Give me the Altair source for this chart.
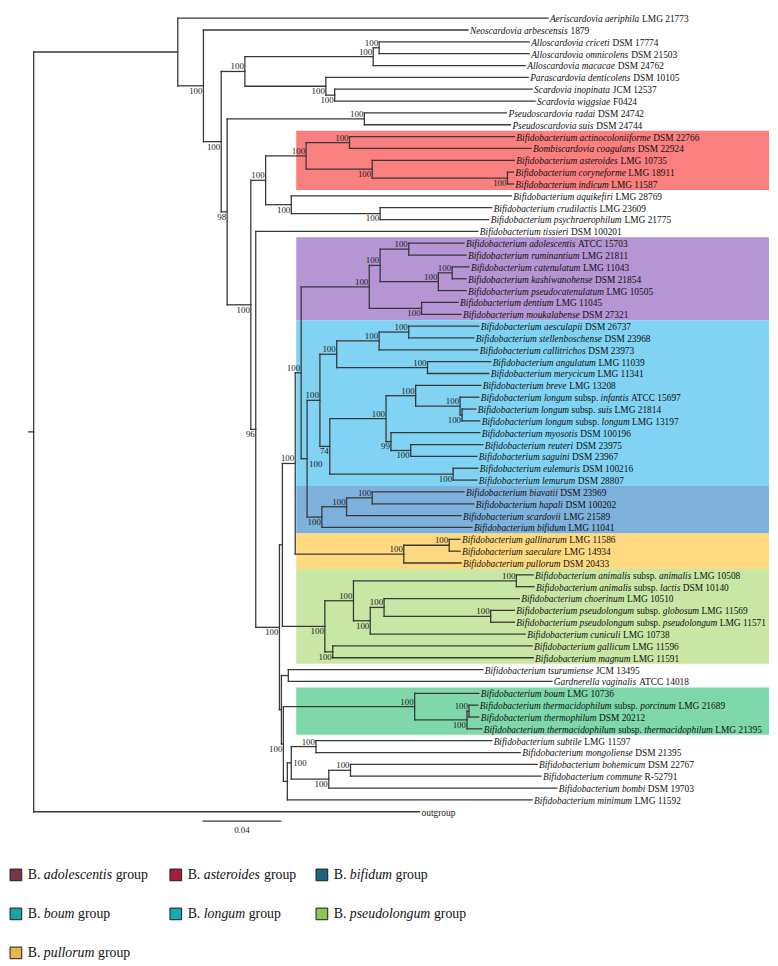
import altair as alt
import pandas as pd

# ---------------- leaves (top to bottom) ----------------
leaf_names = [
    "*Aeriscardovia aeriphila* LMG 21773",
    "*Neoscardovia arbescensis* 1879",
    "*Alloscardovia criceti* DSM 17774",
    "*Alloscardovia omnicolens* DSM 21503",
    "*Alloscardovia macacae* DSM 24762",
    "*Parascardovia denticolens* DSM 10105",
    "*Scardovia inopinata* JCM 12537",
    "*Scardovia wiggsiae* F0424",
    "*Pseudoscardovia radai* DSM 24742",
    "*Pseudoscardovia suis* DSM 24744",
    "*Bifidobacterium actinocoloniiforme* DSM 22766",
    "*Bombiscardovia coagulans* DSM 22924",
    "*Bifidobacterium asteroides* LMG 10735",
    "*Bifidobacterium coryneforme* LMG 18911",
    "*Bifidobacterium indicum* LMG 11587",
    "*Bifidobacterium aquikefiri* LMG 28769",
    "*Bifidobacterium crudilactis* LMG 23609",
    "*Bifidobacterium psychraerophilum* LMG 21775",
    "*Bifidobacterium tissieri* DSM 100201",
    "*Bifidobacterium adolescentis* ATCC 15703",
    "*Bifidobacterium ruminantium* LMG 21811",
    "*Bifidobacterium catenulatum* LMG 11043",
    "*Bifidobacterium kashiwanohense* DSM 21854",
    "*Bifidobacterium pseudocatenulatum* LMG 10505",
    "*Bifidobacterium dentium* LMG 11045",
    "*Bifidobacterium moukalabense* DSM 27321",
    "*Bifidobacterium aesculapii* DSM 26737",
    "*Bifidobacterium stellenboschense* DSM 23968",
    "*Bifidobacterium callitrichos* DSM 23973",
    "*Bifidobacterium angulatum* LMG 11039",
    "*Bifidobacterium merycicum* LMG 11341",
    "*Bifidobacterium breve* LMG 13208",
    "*Bifidobacterium longum* subsp. *infantis* ATCC 15697",
    "*Bifidobacterium longum* subsp. *suis* LMG 21814",
    "*Bifidobacterium longum* subsp. *longum* LMG 13197",
    "*Bifidobacterium myosotis* DSM 100196",
    "*Bifidobacterium reuteri* DSM 23975",
    "*Bifidobacterium saguini* DSM 23967",
    "*Bifidobacterium eulemuris* DSM 100216",
    "*Bifidobacterium lemurum* DSM 28807",
    "*Bifidobacterium biavatii* DSM 23969",
    "*Bifidobacterium hapali* DSM 100202",
    "*Bifidobacterium scardovii* LMG 21589",
    "*Bifidobacterium bifidum* LMG 11041",
    "*Bifidobacterium gallinarum* LMG 11586",
    "*Bifidobacterium saeculare* LMG 14934",
    "*Bifidobacterium pullorum* DSM 20433",
    "*Bifidobacterium animalis* subsp. *animalis* LMG 10508",
    "*Bifidobacterium animalis* subsp. *lactis* DSM 10140",
    "*Bifidobacterium choerinum* LMG 10510",
    "*Bifidobacterium pseudolongum* subsp. *globosum* LMG 11569",
    "*Bifidobacterium pseudolongum* subsp. *pseudolongum* LMG 11571",
    "*Bifidobacterium cuniculi* LMG 10738",
    "*Bifidobacterium gallicum* LMG 11596",
    "*Bifidobacterium magnum* LMG 11591",
    "*Bifidobacterium tsurumiense* JCM 13495",
    "*Gardnerella vaginalis* ATCC 14018",
    "*Bifidobacterium boum* LMG 10736",
    "*Bifidobacterium thermacidophilum* subsp. *porcinum* LMG 21689",
    "*Bifidobacterium thermophilum* DSM 20212",
    "*Bifidobacterium thermacidophilum* subsp. *thermacidophilum* LMG 21395",
    "*Bifidobacterium subtile* LMG 11597",
    "*Bifidobacterium mongoliense* DSM 21395",
    "*Bifidobacterium bohemicum* DSM 22767",
    "*Bifidobacterium commune* R-52791",
    "*Bifidobacterium bombi* DSM 19703",
    "*Bifidobacterium minimum* LMG 11592",
    "outgroup",
]

leaf_parent = [
    "A", "B", "G", "G", "F", "H", "I", "I", "J", "J",
    "N", "N", "O", "P", "P", "Q", "R", "R", "S",
    "X2", "X2", "X4", "X4", "X3", "X5", "X5",
    "AD", "AD", "AC", "AE", "AE", "AI", "AJ", "AK", "AK", "AL", "AM", "AM", "AH", "AH",
    "AO", "AO", "AN", "Z",
    "AQ", "AQ", "AP",
    "AT", "AT", "AV", "AW", "AW", "AU", "AX", "AX",
    "GT", "GT", "BOUM", "BU", "BU", "BT", "SUB", "SUB", "N353", "N353", "N331", "T5", "root",
]

# distance from root (substitutions per site) at the tip of each leaf
leaf_dist = [
    0.2605, 0.2200, 0.2510, 0.2510, 0.2490, 0.2505, 0.2525, 0.2540, 0.2395, 0.2415,
    0.2435, 0.2520, 0.2435, 0.2430, 0.2430, 0.2420, 0.2320, 0.2305, 0.2250,
    0.2180, 0.2190, 0.2205, 0.2190, 0.2190, 0.2150, 0.2165,
    0.2255, 0.2230, 0.2250, 0.2315, 0.2305, 0.2265, 0.2255, 0.2240, 0.2260, 0.2260,
    0.2275, 0.2245, 0.2250, 0.2245,
    0.2180, 0.2230, 0.2165, 0.2220,
    0.2160, 0.2160, 0.2165,
    0.2530, 0.2535, 0.2460, 0.2435, 0.2435, 0.2490, 0.2525, 0.2530,
    0.2275, 0.2625, 0.2255, 0.2250, 0.2255, 0.2270, 0.2320, 0.2465, 0.2550, 0.2570,
    0.2650, 0.2525, 0.1955,
]

# ---------------- internal nodes ----------------
node_ids = [
    "root", "A", "B", "C", "E", "F", "G", "H", "I", "D",
    "J", "K", "L", "M", "N", "O", "P", "Q", "R", "S",
    "T1", "T2", "V", "W", "X", "X1", "X2", "X3", "X4", "X5",
    "Y", "AA", "AB", "AC", "AD", "AE", "AF", "AG", "AI", "AJ",
    "AK", "AL", "AM", "AH", "Z", "AN", "AO", "AP", "AQ", "AR",
    "AS", "AT", "AU", "AV", "AW", "AX", "T3", "GT", "T4", "BOUM",
    "BT", "BU", "T5", "T6", "SUB", "N331", "N353",
]
node_parent = [
    "", "root", "A", "B", "C", "E", "F", "E", "H", "C",
    "D", "D", "K", "L", "M", "M", "O", "L", "Q", "K",
    "S", "T1", "T2", "V", "W", "X", "X1", "X1", "X3", "X",
    "W", "Y", "AA", "AB", "AC", "AB", "AA", "AF", "AG", "AI",
    "AJ", "AG", "AL", "AF", "Y", "Z", "AN", "V", "AP", "T2",
    "AR", "AS", "AS", "AU", "AV", "AR", "T1", "T3", "T3", "T4",
    "BOUM", "BT", "T4", "T5", "T6", "T6", "N331",
]
node_dist = [
    0.0000, 0.0730, 0.0860, 0.0950, 0.1070, 0.1720, 0.1750, 0.1480, 0.1525, 0.0980,
    0.1675, 0.1100, 0.1175, 0.1380, 0.1600, 0.1715, 0.2400, 0.1305, 0.1755, 0.1125,
    0.1245, 0.1260, 0.1325, 0.1355, 0.1700, 0.1755, 0.1900, 0.2050, 0.2120, 0.1965,
    0.1385, 0.1450, 0.1535, 0.1750, 0.1900, 0.1995, 0.1500, 0.1785, 0.1935, 0.2160,
    0.2170, 0.1810, 0.1910, 0.2125, 0.1460, 0.1585, 0.1715, 0.1875, 0.2105, 0.1475,
    0.1620, 0.2445, 0.1705, 0.1775, 0.2315, 0.1515, 0.1255, 0.1290, 0.1265, 0.1930,
    0.2195, 0.2205, 0.1285, 0.1305, 0.1430, 0.1495, 0.1605,
]
node_support = [
    "", "", "100", "100", "100", "100", "100", "100", "100", "98",
    "100", "100", "100", "100", "100", "100", "100", "100", "100", "96",
    "100", "", "100", "100", "100", "100", "100", "100", "100", "100",
    "100", "100", "100", "100", "100", "100", "74", "100", "100", "100",
    "100", "99", "100", "100", "100", "100", "100", "100", "100", "100",
    "100", "100", "100", "100", "100", "100", "", "", "100", "100",
    "100", "100", "", "100", "100", "100", "100",
]
node_label_pos = [
    "", "", "below", "below", "above", "above", "above", "below", "below", "below",
    "above", "below", "above", "above", "above", "below", "below", "below", "below", "below",
    "below", "", "above", "above", "above", "above", "above", "above", "above", "below",
    "right_below", "above", "above", "above", "above", "above", "below", "above", "above", "above",
    "below", "below", "below", "below", "below", "above", "above", "above", "above", "below",
    "above", "above", "below", "above", "above", "below", "", "", "below", "above",
    "below", "above", "", "right", "above", "below", "above",
]
root_stem_start = -0.0025

# ---------------- shaded groups ----------------
box_group = ["asteroides", "adolescentis", "longum", "bifidum", "pullorum", "pseudolongum", "boum"]
box_first_row = [10, 19, 26, 40, 44, 47, 57]
box_last_row = [14, 25, 39, 43, 46, 54, 60]
box_color = ["#FA7F7F", "#B595D3", "#80D3F3", "#7EB1DC", "#FFD97F", "#C8E6A4", "#7ED8AA"]
box_x_start = 0.133
box_x_end = 0.3725

# ---------------- legend ----------------
legend_labels = [
    "B. *adolescentis* group", "B. *asteroides* group", "B. *bifidum* group",
    "B. *boum* group", "B. *longum* group", "B. *pseudolongum* group",
    "B. *pullorum* group",
]
legend_colors = ["#7A3448", "#A51E3C", "#1E6482", "#16A5A0", "#17A9B3", "#8DC653", "#E6B84C"]
legend_col = [0, 1, 2, 0, 1, 2, 0]
legend_row = [0, 0, 0, 1, 1, 1, 2]

# ---------------- scale bar ----------------
scalebar_start = 0.0855
scalebar_length = 0.04
scalebar_label = "0.04"
scalebar_row = 67.8

# ---------------- text metrics (Times / Liberation Serif, per 1000 em) ----------------
REG = dict(zip(" .-0123456789", [250, 250, 333] + [500] * 10))
REG.update(dict(zip("ABCDEFGHIJKLMNOPQRSTUVWXYZ",
                    [722, 667, 667, 722, 611, 556, 722, 722, 333, 389, 722, 611, 889,
                     722, 722, 556, 722, 667, 556, 611, 722, 722, 944, 722, 722, 611])))
REG.update(dict(zip("abcdefghijklmnopqrstuvwxyz",
                    [444, 500, 444, 500, 444, 333, 500, 500, 278, 278, 500, 278, 778,
                     500, 500, 500, 500, 333, 389, 278, 500, 500, 722, 500, 500, 444])))
ITA = dict(zip(" .-0123456789", [250, 250, 333] + [500] * 10))
ITA.update(dict(zip("ABCDEFGHIJKLMNOPQRSTUVWXYZ",
                    [611, 611, 667, 722, 611, 611, 722, 722, 333, 444, 667, 556, 833,
                     667, 722, 611, 722, 611, 500, 556, 722, 611, 833, 611, 556, 556])))
ITA.update(dict(zip("abcdefghijklmnopqrstuvwxyz",
                    [500, 500, 444, 500, 444, 278, 500, 500, 278, 278, 444, 278, 722,
                     500, 500, 500, 500, 389, 389, 278, 500, 444, 667, 444, 444, 389])))


def text_width(s, italic, size):
    table = ITA if italic else REG
    return sum(table.get(c, 500) for c in s) * size / 1000.0


def split_segments(label, size, start):
    """Split '*italic* roman' markup into (text, italic, pixel offset) pieces."""
    segs = []
    off = start
    for k, part in enumerate(label.split("*")):
        italic = (k % 2 == 1)
        if part == "":
            continue
        lead = len(part) - len(part.lstrip(" "))
        trail = len(part) - len(part.rstrip(" "))
        core = part.strip(" ")
        off += lead * 0.25 * size
        if core:
            segs.append((core, italic, off))
            off += text_width(core, italic, size)
        off += trail * 0.25 * size
    return segs


# ---------------- tree layout ----------------
children = {n: [] for n in node_ids}
for i, p in enumerate(leaf_parent):
    children[p].append(("leaf", i))
for n, p in zip(node_ids, node_parent):
    if p:
        children[p].append(("node", n))
dist = dict(zip(node_ids, node_dist))
ypos = {}


def layout(n):
    ys = []
    for kind, key in children[n]:
        ys.append(float(key) if kind == "leaf" else layout(key))
    y = (min(ys) + max(ys)) / 2.0
    ypos[n] = (y, min(ys), max(ys))
    return y


layout("root")

# chart geometry
W, H = 770, 836
XMIN, XMAX = -0.012, 0.373
PX_PER_UNIT = W / (XMAX - XMIN)

hrows = []
for n, p in zip(node_ids, node_parent):
    if p:
        hrows.append({"x": dist[p], "x2": dist[n], "y": ypos[n][0]})
    else:
        hrows.append({"x": root_stem_start, "x2": dist[n], "y": ypos[n][0]})
for i, p in enumerate(leaf_parent):
    hrows.append({"x": dist[p], "x2": leaf_dist[i], "y": float(i)})
hdf = pd.DataFrame(hrows)
vdf = pd.DataFrame([{"x": dist[n], "y": ypos[n][1], "y2": ypos[n][2]} for n in node_ids])

LEAF_FS = 9.5
seg_rows = []
for i, name in enumerate(leaf_names):
    for core, italic, off in split_segments(name, LEAF_FS, 2.0):
        seg_rows.append({"x": leaf_dist[i] + off / PX_PER_UNIT, "y": float(i),
                         "text": core, "italic": italic})
seg_df = pd.DataFrame(seg_rows)

sup_df = pd.DataFrame([
    {"x": dist[n], "y": ypos[n][0], "text": s, "pos": pos}
    for n, s, pos in zip(node_ids, node_support, node_label_pos) if s
])

box_df = pd.DataFrame({
    "group": box_group,
    "x": [box_x_start] * len(box_group),
    "x2": [box_x_end] * len(box_group),
    "y": [r - 0.5 for r in box_first_row],
    "y2": [r + 0.5 for r in box_last_row],
    "color": box_color,
})

sb_df = pd.DataFrame({
    "x": [scalebar_start], "x2": [scalebar_start + scalebar_length],
    "xm": [scalebar_start + scalebar_length / 2], "y": [scalebar_row],
    "label": [scalebar_label],
})

# ---------------- chart ----------------
xs = alt.Scale(domain=[XMIN, XMAX], nice=False, zero=False)
ys = alt.Scale(domain=[-1 / 12, 835 / 12], nice=False, zero=False, reverse=True)
X = lambda f: alt.X(f, scale=xs, axis=None)
Y = lambda f: alt.Y(f, scale=ys, axis=None)
FONT = "Liberation Serif"
LINE = "#383838"

boxes = alt.Chart(box_df).mark_rect().encode(
    x=X("x:Q"), x2="x2:Q", y=Y("y:Q"), y2="y2:Q",
    color=alt.Color("color:N", scale=None))

hlines = alt.Chart(hdf).mark_rule(color=LINE, strokeWidth=1.3, strokeCap="square").encode(
    x=X("x:Q"), x2="x2:Q", y=Y("y:Q"))
vlines = alt.Chart(vdf).mark_rule(color=LINE, strokeWidth=1.3, strokeCap="square").encode(
    x=X("x:Q"), y=Y("y:Q"), y2="y2:Q")

seg_enc = dict(x=X("x:Q"), y=Y("y:Q"), text="text:N")
leaf_ital = alt.Chart(seg_df).transform_filter("datum.italic").mark_text(
    align="left", baseline="middle", font=FONT, fontSize=LEAF_FS, fontStyle="italic",
    color="#111111", dy=1).encode(**seg_enc)
leaf_reg = alt.Chart(seg_df).transform_filter("!datum.italic").mark_text(
    align="left", baseline="middle", font=FONT, fontSize=LEAF_FS,
    color="#111111", dy=1).encode(**seg_enc)

sup_enc = dict(x=X("x:Q"), y=Y("y:Q"), text="text:N")
SUP_FS = 9
sup_above = alt.Chart(sup_df).transform_filter("datum.pos == 'above'").mark_text(
    align="right", baseline="bottom", dx=-1, dy=0, font=FONT, fontSize=SUP_FS,
    color="#222222").encode(**sup_enc)
sup_below = alt.Chart(sup_df).transform_filter("datum.pos == 'below'").mark_text(
    align="right", baseline="top", dx=-1, dy=1, font=FONT, fontSize=SUP_FS,
    color="#222222").encode(**sup_enc)
sup_right = alt.Chart(sup_df).transform_filter("datum.pos == 'right'").mark_text(
    align="left", baseline="middle", dx=2, font=FONT, fontSize=SUP_FS,
    color="#222222").encode(**sup_enc)
sup_rbelow = alt.Chart(sup_df).transform_filter("datum.pos == 'right_below'").mark_text(
    align="left", baseline="top", dx=2, dy=1, font=FONT, fontSize=SUP_FS,
    color="#222222").encode(**sup_enc)

sb_line = alt.Chart(sb_df).mark_rule(color=LINE, strokeWidth=1.3).encode(
    x=X("x:Q"), x2="x2:Q", y=Y("y:Q"))
sb_text = alt.Chart(sb_df).mark_text(
    baseline="top", dy=5, font=FONT, fontSize=9, color="#222222").encode(
    x=X("xm:Q"), y=Y("y:Q"), text="label:N")

tree = alt.layer(
    boxes, hlines, vlines, leaf_ital, leaf_reg,
    sup_above, sup_below, sup_right, sup_rbelow, sb_line, sb_text,
).properties(width=W, height=H)

# ---------------- legend panel ----------------
LEG_FS = 14
LEG_COL_PX = [6, 168, 316]      # left-column anchors of the legend grid (pixels)
leg_sq_df = pd.DataFrame({"label": legend_labels, "color": legend_colors,
                          "px": [LEG_COL_PX[c] for c in legend_col], "row": legend_row})
leg_rows = []
for lab, c, r in zip(legend_labels, legend_col, legend_row):
    for core, italic, off in split_segments(lab, LEG_FS, 12.0):
        leg_rows.append({"px": LEG_COL_PX[c] + off, "row": r, "text": core, "italic": italic})
leg_txt_df = pd.DataFrame(leg_rows)

lxs = alt.Scale(domain=[0, W], range=[0, W], nice=False, zero=False)
lys = alt.Scale(domain=[0, 2], range=[33, 112])
LX = alt.X("px:Q", scale=lxs, axis=None)
LY = alt.Y("row:Q", scale=lys, axis=None)

leg_sq = alt.Chart(leg_sq_df).mark_square(size=140, stroke="#1a1a1a", strokeWidth=1,
                                          opacity=1).encode(
    x=LX, y=LY, color=alt.Color("color:N", scale=None))
leg_enc = dict(x=LX, y=LY, text="text:N")
leg_ital = alt.Chart(leg_txt_df).transform_filter("datum.italic").mark_text(
    align="left", baseline="middle", font=FONT, fontSize=LEG_FS, fontStyle="italic",
    color="#111111").encode(**leg_enc)
leg_reg = alt.Chart(leg_txt_df).transform_filter("!datum.italic").mark_text(
    align="left", baseline="middle", font=FONT, fontSize=LEG_FS,
    color="#111111").encode(**leg_enc)

legend = alt.layer(leg_sq, leg_ital, leg_reg).properties(width=W, height=120)

chart = alt.vconcat(tree, legend, spacing=0).properties(padding=0).configure_view(stroke=None)

chart.save("out.html", embed_options={"renderer": "svg", "actions": False})
